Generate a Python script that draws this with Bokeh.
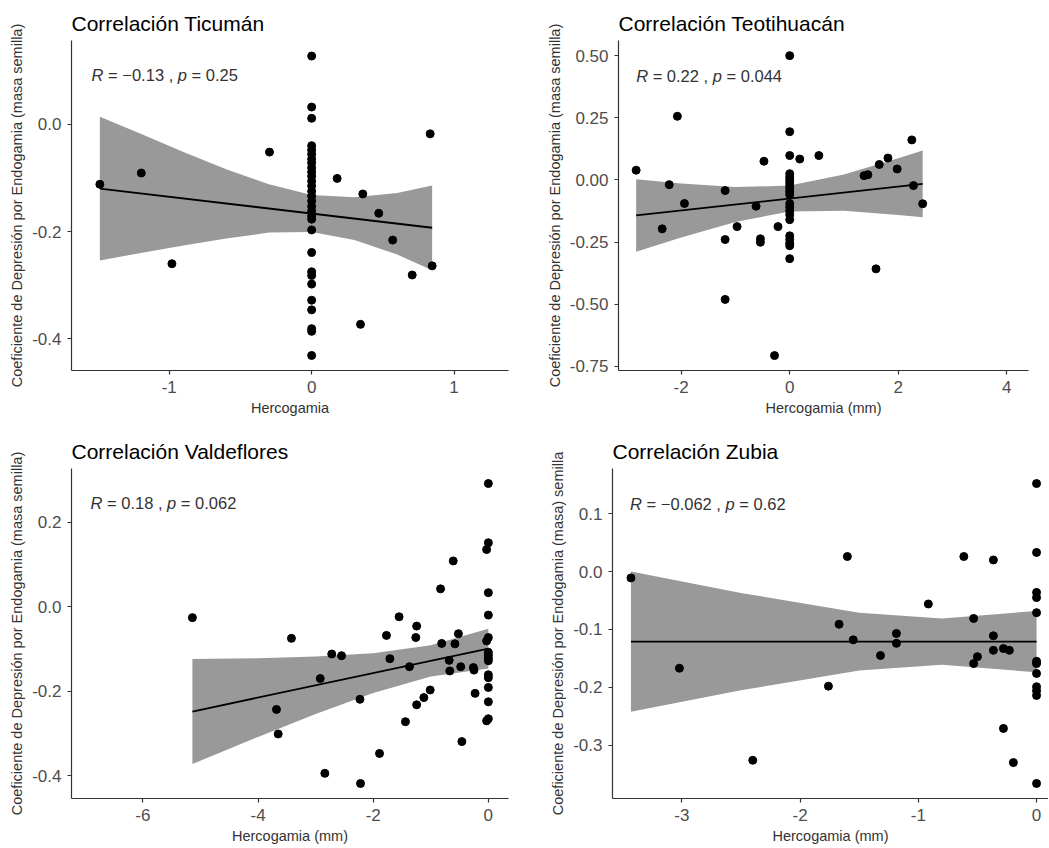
from bokeh.plotting import figure
from bokeh.layouts import column, row
from bokeh.models import Range1d, FixedTicker, ColumnDataSource
from bokeh.core.properties import value
from bokeh.embed import file_html
from bokeh.resources import INLINE

FONT = "Liberation Sans"
BAND = "#999999"

# ---------------- Panel 1: Ticumán ----------------
tic_x = [-1.487, -1.196, -0.981, -0.296, 0.179, 0.359, 0.471, 0.569, 0.706, 0.832, 0.846, 0.343,
         0, 0, 0, 0, 0, 0, 0, 0, 0, 0, 0, 0, 0, 0, 0, 0, 0, 0, 0, 0, 0, 0, 0, 0, 0, 0, 0, 0, 0, 0]
tic_y = [-0.112, -0.091, -0.260, -0.052, -0.101, -0.130, -0.166, -0.216, -0.281, -0.018, -0.264, -0.373,
         0.127, 0.032, 0.011, -0.040, -0.048, -0.056, -0.065, -0.072, -0.081, -0.089, -0.097, -0.106,
         -0.115, -0.125, -0.134, -0.143, -0.153, -0.162, -0.171, -0.177, -0.197, -0.239, -0.275,
         -0.282, -0.298, -0.328, -0.346, -0.381, -0.386, -0.431]
tic_band_x = [-1.487, -1.2, -0.9, -0.6, -0.3, 0.0, 0.3, 0.6, 0.846]
tic_band_lo = [-0.254, -0.240, -0.226, -0.213, -0.202, -0.201, -0.216, -0.243, -0.272]
tic_band_hi = [0.014, -0.018, -0.052, -0.084, -0.112, -0.132, -0.136, -0.128, -0.114]
tic_fit_x = [-1.487, 0.846]
tic_fit_y = [-0.120, -0.193]
tic_r, tic_p = "\u22120.13", "0.25"
tic_xticks, tic_xlabels = [-1, 0, 1], ["-1", "0", "1"]
tic_yticks, tic_ylabels = [-0.4, -0.2, 0.0], ["-0.4", "-0.2", "0.0"]

# ---------------- Panel 2: Teotihuacán ----------------
teo_x = [-2.83, -2.22, -2.07, -2.35, -1.94, -1.19, -1.19, -1.19, -0.97, -0.62, -0.54, -0.54, -0.475,
         -0.28, -0.216, 0.185, 0.537, 1.37, 1.44, 1.65, 1.59, 1.81, 1.98, 2.25, 2.28, 2.45,
         0, 0, 0, 0, 0, 0, 0, 0, 0, 0, 0, 0, 0, 0, 0, 0, 0, 0, 0, 0, 0]
teo_y = [0.039, -0.019, 0.256, -0.197, -0.095, -0.043, -0.240, -0.481, -0.188, -0.106, -0.237, -0.251, 0.075,
         -0.707, -0.188, 0.084, 0.098, 0.017, 0.021, 0.062, -0.358, 0.088, 0.044, 0.161, -0.023, -0.096,
         0.50, 0.194, 0.098, 0.025, 0.012, 0.0, -0.012, -0.024, -0.036, -0.048, -0.060, -0.095, -0.110,
         -0.125, -0.140, -0.160, -0.225, -0.240, -0.255, -0.265, -0.317]
teo_band_x = [-2.83, -2.0, -1.0, 0.0, 1.0, 2.0, 2.45]
teo_band_lo = [-0.289, -0.232, -0.169, -0.127, -0.124, -0.141, -0.150]
teo_band_hi = [0.003, -0.014, -0.029, -0.023, 0.022, 0.087, 0.118]
teo_fit_x = [-2.83, 2.45]
teo_fit_y = [-0.143, -0.016]
teo_r, teo_p = "0.22", "0.044"
teo_xticks, teo_xlabels = [-2, 0, 2, 4], ["-2", "0", "2", "4"]
teo_yticks = [-0.75, -0.5, -0.25, 0.0, 0.25, 0.5]
teo_ylabels = ["-0.75", "-0.50", "-0.25", "0.00", "0.25", "0.50"]

# ---------------- Panel 3: Valdeflores ----------------
val_x = [-5.14, -3.42, -3.68, -3.65, -2.92, -2.84, -2.72, -2.55, -2.23, -2.22, -1.89, -1.77, -1.71,
         -1.55, -1.44, -1.37, -1.26, -1.245, -1.245, -1.12, -1.01, -0.83, -0.81, -0.68, -0.67, -0.61,
         -0.58, -0.52, -0.48, -0.46, -0.26, -0.25, -0.23, -0.03, -0.03, -0.03,
         0, 0, 0, 0, 0, 0, 0, 0, 0, 0, 0, 0, 0, 0]
val_y = [-0.026, -0.075, -0.243, -0.301, -0.170, -0.394, -0.112, -0.116, -0.219, -0.418, -0.347, -0.068,
         -0.123, -0.024, -0.272, -0.142, -0.073, -0.046, -0.232, -0.215, -0.197, 0.042, -0.087, -0.127,
         -0.152, 0.108, -0.088, -0.064, -0.142, -0.319, -0.144, -0.150, -0.205, 0.135, -0.081, -0.270,
         0.291, 0.151, 0.033, -0.020, -0.073, -0.108, -0.115, -0.122, -0.128, -0.161, -0.168, -0.191,
         -0.225, -0.265]
val_band_x = [-5.14, -4.0, -3.0, -2.0, -1.0, 0.0]
val_band_lo = [-0.372, -0.308, -0.254, -0.204, -0.165, -0.146]
val_band_hi = [-0.124, -0.122, -0.118, -0.110, -0.091, -0.052]
val_fit_x = [-5.14, 0.0]
val_fit_y = [-0.248, -0.099]
val_r, val_p = "0.18", "0.062"
val_xticks, val_xlabels = [-6, -4, -2, 0], ["-6", "-4", "-2", "0"]
val_yticks, val_ylabels = [-0.4, -0.2, 0.0, 0.2], ["-0.4", "-0.2", "0.0", "0.2"]

# ---------------- Panel 4: Zubia ----------------
zub_x = [-3.43, -3.02, -2.40, -1.76, -1.67, -1.60, -1.55, -1.32, -1.185, -1.185, -0.915, -0.615,
         -0.532, -0.532, -0.50, -0.365, -0.365, -0.365, -0.28, -0.28, -0.23, -0.196,
         0, 0, 0, 0, 0, 0, 0, 0, 0, 0, 0, 0]
zub_y = [-0.011, -0.167, -0.326, -0.198, -0.091, 0.026, -0.118, -0.145, -0.107, -0.124, -0.056, 0.026,
         -0.081, -0.159, -0.147, 0.020, -0.111, -0.136, -0.271, -0.133, -0.136, -0.330,
         0.152, 0.033, -0.036, -0.045, -0.071, -0.155, -0.159, -0.176, -0.199, -0.206, -0.214, -0.366]
zub_band_x = [-3.43, -2.5, -1.5, -0.8, 0.0]
zub_band_lo = [-0.242, -0.205, -0.171, -0.161, -0.174]
zub_band_hi = [0.000, -0.037, -0.071, -0.081, -0.068]
zub_fit_x = [-3.43, 0.0]
zub_fit_y = [-0.121, -0.121]
zub_r, zub_p = "\u22120.062", "0.62"
zub_xticks, zub_xlabels = [-3, -2, -1, 0], ["-3", "-2", "-1", "0"]
zub_yticks = [-0.3, -0.2, -0.1, 0.0, 0.1]
zub_ylabels = ["-0.3", "-0.2", "-0.1", "0.0", "0.1"]

YLAB = "Coeficiente de Depresión por Endogamia (masa semilla)"
YLAB_Z = "Coeficiente de Depresión por Endogamia (masa) semilla"

# approximate advance widths (per 1000 em) for placing italic/regular pieces
ADV = {"R": 722, " ": 278, "=": 584, "\u2212": 584, ".": 278, ",": 278, "p": 556}
for d in "0123456789":
    ADV[d] = 556


def tw(s, size):
    return sum(ADV.get(c, 556) for c in s) * size / 1000.0


def panel(title, xs, ys, bx, blo, bhi, fx, fy, r, pv, ann, xr, yr,
          xt, xtl, yt, ytl, xlab, ylab, w, h, b):
    p = figure(width=w, height=h, x_range=Range1d(*xr), y_range=Range1d(*yr),
               output_backend="svg", toolbar_location=None,
               min_border_left=b[0], min_border_right=b[1],
               min_border_top=b[2], min_border_bottom=b[3])
    p.outline_line_color = None
    p.grid.visible = False
    p.background_fill_color = "white"
    p.border_fill_color = "white"

    p.title.text = title
    p.title.text_font = FONT
    p.title.text_font_size = "21px"
    p.title.text_font_style = "normal"
    p.title.text_color = "black"
    p.title.align = "left"
    p.title.standoff = 12

    p.varea(x=bx, y1=blo, y2=bhi, fill_color=BAND, fill_alpha=1.0)
    p.line(fx, fy, line_color="black", line_width=1.8)
    p.scatter(xs, ys, size=8, fill_color="black", line_color="black")

    fs = 16.5
    pieces = ["R", "= " + r + " ,", "p", "= " + pv]
    offs = [0, tw("R ", fs), tw("R = " + r + " , ", fs), tw("R = " + r + " , p ", fs)]
    src = ColumnDataSource(dict(x=[ann[0]] * 4, y=[ann[1]] * 4, t=pieces, o=offs,
                                st=["italic", "normal", "italic", "normal"]))
    p.text(x="x", y="y", text="t", x_offset="o", text_font_style="st", source=src,
           text_font=value(FONT), text_font_size=value(f"{fs}px"), text_color="#333333",
           text_align="left", text_baseline="alphabetic")

    p.xaxis.ticker = FixedTicker(ticks=xt)
    p.xaxis.major_label_overrides = {t: l for t, l in zip(xt, xtl)}
    p.yaxis.ticker = FixedTicker(ticks=yt)
    p.yaxis.major_label_overrides = {t: l for t, l in zip(yt, ytl)}
    p.xaxis.axis_label = xlab
    p.yaxis.axis_label = ylab
    for ax in (p.xaxis[0], p.yaxis[0]):
        ax.axis_line_color = "#333333"
        ax.axis_line_width = 1.2
        ax.major_tick_line_color = "#333333"
        ax.major_tick_line_width = 1.2
        ax.major_tick_out = 4
        ax.major_tick_in = 0
        ax.minor_tick_line_color = None
        ax.major_label_text_font = FONT
        ax.major_label_text_font_size = "17px"
        ax.major_label_text_color = "#4D4D4D"
        ax.major_label_standoff = 6
        ax.axis_label_text_font = FONT
        ax.axis_label_text_font_size = "14.5px"
        ax.axis_label_text_font_style = "normal"
        ax.axis_label_text_color = "#333333"
        ax.axis_label_standoff = 4
    return p


p1 = panel("Correlación Ticumán", tic_x, tic_y, tic_band_x, tic_band_lo, tic_band_hi,
           tic_fit_x, tic_fit_y, tic_r, tic_p, (-1.545, 0.091), (-1.686, 1.382), (-0.459, 0.156),
           tic_xticks, tic_xlabels, tic_yticks, tic_ylabels, "Hercogamia", YLAB,
           524, 424, (71, 16, 40, 54))
p2 = panel("Correlación Teotihuacán", teo_x, teo_y, teo_band_x, teo_band_lo, teo_band_hi,
           teo_fit_x, teo_fit_y, teo_r, teo_p, (-2.83, 0.420), (-3.155, 4.40), (-0.767, 0.561),
           teo_xticks, teo_xlabels, teo_yticks, teo_ylabels, "Hercogamia (mm)", YLAB,
           524, 424, (94, 20, 40, 54))
p3 = panel("Correlación Valdeflores", val_x, val_y, val_band_x, val_band_lo, val_band_hi,
           val_fit_x, val_fit_y, val_r, val_p, (-6.91, 0.244), (-7.24, 0.35), (-0.4535, 0.3265),
           val_xticks, val_xlabels, val_yticks, val_ylabels, "Hercogamia (mm)", YLAB,
           524, 423, (71, 16, 44, 49))
p4 = panel("Correlación Zubia", zub_x, zub_y, zub_band_x, zub_band_lo, zub_band_hi,
           zub_fit_x, zub_fit_y, zub_r, zub_p, (-3.437, 0.1175), (-3.586, 0.101), (-0.392, 0.178),
           zub_xticks, zub_xlabels, zub_yticks, zub_ylabels, "Hercogamia (mm)", YLAB_Z,
           524, 423, (88, 0, 44, 49))

layout = column(row(p1, p2), row(p3, p4))
open("out.html", "w").write(file_html(layout, INLINE))
